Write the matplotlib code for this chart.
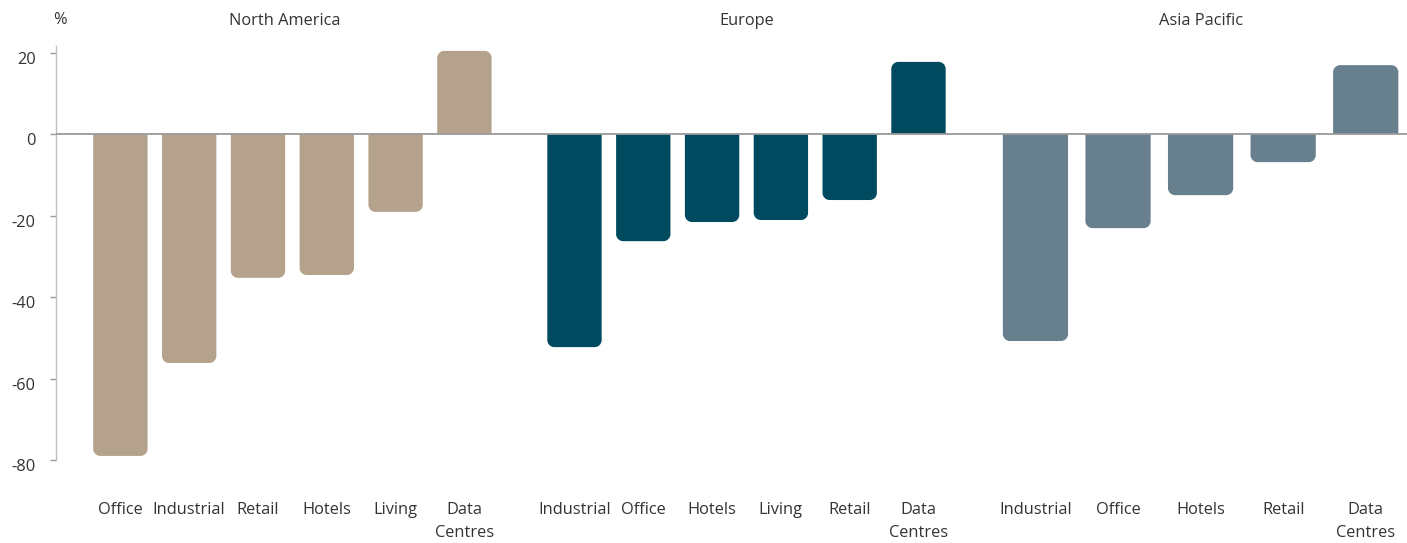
import matplotlib
matplotlib.use("Agg")
import matplotlib.pyplot as plt
import matplotlib.transforms as mtransforms
from matplotlib.path import Path
from matplotlib.patches import PathPatch

plt.rcParams['font.family'] = ['Open Sans', 'DejaVu Sans']

# Regions and their sector returns (%)
regions = ["North America", "Europe", "Asia Pacific"]
na_sectors = ["Office", "Industrial", "Retail", "Hotels", "Living", "Data\nCentres"]
na_values = [-79.0, -56.2, -35.3, -34.6, -19.1, 20.4]
eu_sectors = ["Industrial", "Office", "Hotels", "Living", "Retail", "Data\nCentres"]
eu_values = [-52.3, -26.3, -21.6, -21.1, -16.2, 17.7]
ap_sectors = ["Industrial", "Office", "Hotels", "Retail", "Data\nCentres"]
ap_values = [-50.8, -23.1, -15.0, -6.9, 16.9]
colors = ["#b4a28c", "#004a5f", "#687f8e"]

yticks = [20, 0, -20, -40, -60, -80]

groups = [(na_sectors, na_values), (eu_sectors, eu_values), (ap_sectors, ap_values)]

W, H = 1407, 543
FS = 11.8
TXT = "#333333"
fig = plt.figure(figsize=(W / 100, H / 100), dpi=100)
ax = fig.add_axes([56 / W, (H - 460) / H, (W - 56) / W, 414 / H])

group_gap = 0.1
bar_frac = 0.79
ax.set_xlim(-0.0726, 3.2)
ax.set_ylim(-80, 21.6)
fig.canvas.draw()

# pixel scale for rounded corners
p0 = ax.transData.transform((0, 0))
p1 = ax.transData.transform((1, 1))
sx = p1[0] - p0[0]
sy = p1[1] - p0[1]
r_px = 7.0


def rounded_bar(x, w, v, color):
    rx = min(r_px / sx, w / 2)
    ry = min(r_px / sy, abs(v) / 2)
    s = 1 if v >= 0 else -1
    k = 0.5523
    x0, x1 = x - w / 2, x + w / 2
    verts = [
        (x0, 0), (x0, v - s * ry),
        (x0, v - s * ry + s * k * ry), (x0 + rx - k * rx, v), (x0 + rx, v),
        (x1 - rx, v),
        (x1 - rx + k * rx, v), (x1, v - s * ry + s * k * ry), (x1, v - s * ry),
        (x1, 0), (x0, 0),
    ]
    codes = [Path.MOVETO, Path.LINETO,
             Path.CURVE4, Path.CURVE4, Path.CURVE4,
             Path.LINETO,
             Path.CURVE4, Path.CURVE4, Path.CURVE4,
             Path.LINETO, Path.CLOSEPOLY]
    ax.add_patch(PathPatch(Path(verts, codes), facecolor=color,
                           edgecolor="none", zorder=2))


tick_pos, tick_lab = [], []
for g, ((cats, vals), col, name) in enumerate(zip(groups, colors, regions)):
    start = g * (1 + group_gap)
    n = len(cats)
    for i, (c, v) in enumerate(zip(cats, vals)):
        xc = start + (i + 0.5) / n
        rounded_bar(xc, bar_frac / n, v, col)
        tick_pos.append(xc)
        tick_lab.append(c)
    ax.text(start + 0.5 - (0.018 if g == 0 else 0), 1.0 + 25 / 414, name,
            transform=ax.get_xaxis_transform(), ha="center", va="center",
            fontsize=FS, color=TXT)

ax.axhline(0, color="#9a9a9a", lw=1.3, zorder=3)

ax.set_xticks(tick_pos)
ax.set_xticklabels(tick_lab, fontsize=FS, color=TXT, linespacing=1.6,
                   va="top")
ax.tick_params(axis="x", length=0, pad=30)
ax.set_yticks(yticks)
ax.set_yticklabels([str(t) for t in yticks], fontsize=FS, color=TXT)
ax.tick_params(axis="y", length=4.5, width=1, color="#9a9a9a", pad=10)

# y labels sit slightly below their tick marks
shift = mtransforms.ScaledTranslation(0, -5 / 100, fig.dpi_scale_trans)
for lab in ax.get_yticklabels():
    lab.set_transform(lab.get_transform() + shift)

for s in ["top", "right", "bottom"]:
    ax.spines[s].set_visible(False)
ax.spines["left"].set_color("#c0c0c0")
ax.spines["left"].set_linewidth(1)

fig.text(60 / W, 1 - 20 / H, "%", ha="center", va="center",
         fontsize=FS, color=TXT)

fig.savefig("out.png", dpi=100, facecolor="white")
